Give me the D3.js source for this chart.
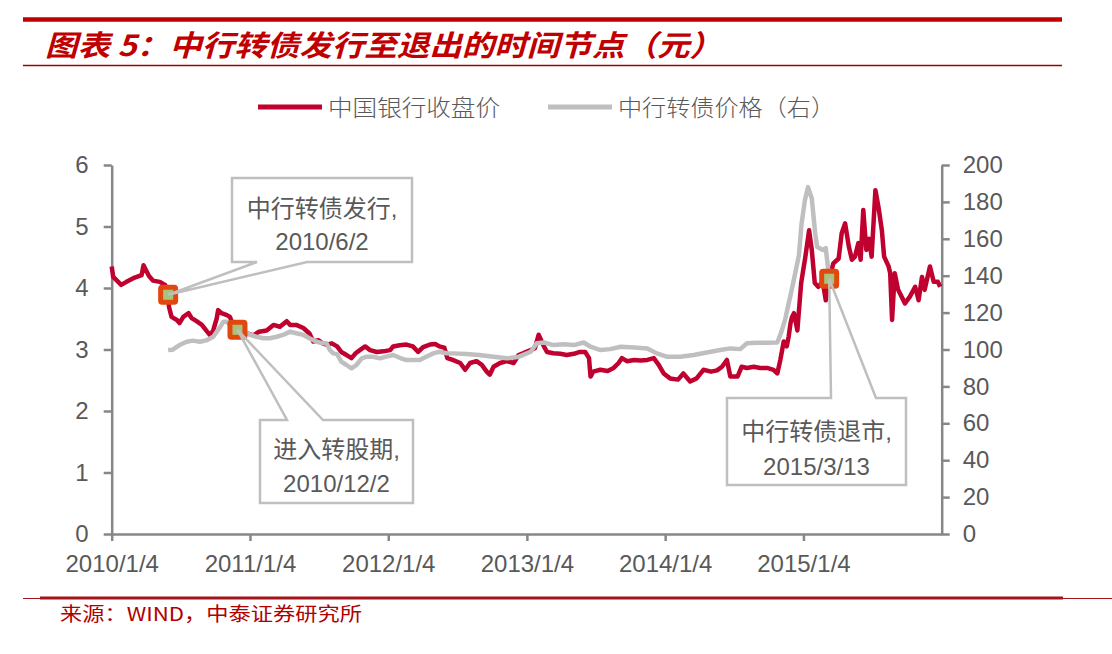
<!DOCTYPE html>
<html><head><meta charset="utf-8">
<script src="https://cdn.jsdelivr.net/npm/d3@7"></script>
<style>html,body{margin:0;padding:0;background:#fff;}svg{display:block;}</style>
</head><body>
<svg id="chart" width="1112" height="654"></svg>
<script>
// ---------------- DATA ----------------
const stockDates = ["2010-01-04","2010-01-08","2010-01-29","2010-02-12","2010-03-02","2010-03-24","2010-03-29","2010-04-12","2010-04-23","2010-05-11","2010-05-25","2010-06-02","2010-06-04","2010-06-11","2010-06-25","2010-07-02","2010-07-12","2010-07-26","2010-08-03","2010-08-16","2010-08-30","2010-09-13","2010-09-21","2010-09-29","2010-10-08","2010-10-12","2010-10-21","2010-11-04","2010-11-12","2010-11-22","2010-12-02","2010-12-17","2010-12-30",
"2011-01-13","2011-01-28","2011-02-17","2011-03-07","2011-03-24","2011-04-11","2011-04-20","2011-05-06","2011-05-25","2011-06-10","2011-06-20","2011-07-04","2011-07-15","2011-07-25","2011-08-08","2011-08-22","2011-09-02","2011-09-16","2011-09-29","2011-10-10","2011-10-21","2011-11-04","2011-11-17","2011-12-05","2011-12-22",
"2012-01-09","2012-01-17","2012-02-03","2012-02-21","2012-03-09","2012-03-23","2012-04-05","2012-04-23","2012-05-07","2012-05-18","2012-05-31","2012-06-08","2012-06-22","2012-07-12","2012-07-25","2012-08-07","2012-08-24","2012-09-07","2012-09-20","2012-09-28","2012-10-08","2012-10-25","2012-11-12","2012-11-30","2012-12-13","2012-12-26",
"2013-01-14","2013-01-25","2013-02-04","2013-02-18","2013-02-26","2013-03-15","2013-04-02","2013-04-19","2013-05-08","2013-05-24","2013-06-07","2013-06-17","2013-06-21","2013-06-28","2013-07-17","2013-08-05","2013-08-21","2013-09-03","2013-09-12","2013-09-25","2013-10-14","2013-10-31","2013-11-18","2013-12-05","2013-12-18","2013-12-31",
"2014-01-17","2014-02-07","2014-02-21","2014-03-11","2014-03-28","2014-04-15","2014-05-05","2014-05-21","2014-06-03","2014-06-16","2014-06-25","2014-07-14","2014-07-25","2014-08-08","2014-08-26","2014-09-12","2014-09-30","2014-10-17","2014-10-27","2014-11-04","2014-11-13","2014-11-21","2014-11-26","2014-12-01","2014-12-05","2014-12-10","2014-12-19","2014-12-29",
"2015-01-05","2015-01-08","2015-01-19","2015-01-26","2015-02-03","2015-02-12","2015-02-24","2015-03-04","2015-03-13","2015-03-24","2015-04-07","2015-04-15","2015-04-24","2015-05-04","2015-05-12","2015-05-20","2015-05-29","2015-06-04","2015-06-11","2015-06-19","2015-06-26","2015-07-03","2015-07-13","2015-07-21","2015-07-30","2015-08-05","2015-08-17","2015-08-21","2015-08-26","2015-09-02","2015-09-11","2015-09-29","2015-10-12","2015-10-26","2015-11-04","2015-11-13","2015-11-20","2015-12-04","2015-12-14","2015-12-25","2015-12-31"];
const stockPrices = [4.35,4.18,4.05,4.10,4.16,4.21,4.37,4.20,4.12,4.10,4.05,3.90,3.70,3.53,3.48,3.43,3.53,3.59,3.51,3.46,3.40,3.29,3.23,3.31,3.50,3.64,3.59,3.56,3.53,3.37,3.32,3.29,3.26,
3.23,3.29,3.31,3.40,3.37,3.46,3.40,3.40,3.35,3.26,3.13,3.15,3.10,3.08,3.10,3.05,2.96,2.91,2.86,2.94,2.99,3.05,2.99,2.96,2.97,
2.99,3.05,3.07,3.08,3.05,2.96,3.04,3.08,3.09,3.05,3.03,2.86,2.83,2.78,2.67,2.78,2.81,2.75,2.64,2.59,2.72,2.78,2.81,2.78,2.91,2.94,
2.99,3.02,3.24,3.05,2.96,2.94,2.93,2.91,2.93,2.96,2.96,2.86,2.56,2.64,2.67,2.65,2.70,2.78,2.86,2.81,2.83,2.82,2.83,2.86,2.75,2.61,
2.53,2.51,2.61,2.48,2.53,2.67,2.64,2.66,2.72,2.83,2.56,2.56,2.72,2.70,2.72,2.70,2.70,2.67,2.61,2.83,3.13,3.05,3.21,3.43,3.53,3.59,3.31,4.08,
4.35,4.46,4.94,4.62,4.08,4.02,4.10,3.80,4.15,4.40,4.48,4.89,5.05,4.67,4.46,4.51,4.73,4.46,5.27,4.62,4.80,4.51,5.59,5.32,4.94,4.51,4.35,4.24,3.48,4.24,3.97,3.75,3.86,4.02,3.80,4.18,3.97,4.35,4.10,4.10,4.02];

const bondDates = ["2010-06-02","2010-06-14","2010-07-02","2010-07-21","2010-08-06","2010-08-25","2010-09-13","2010-09-29","2010-10-18","2010-10-26","2010-11-04","2010-11-12","2010-11-30","2010-12-13","2010-12-27",
"2011-01-07","2011-01-21","2011-02-09","2011-02-25","2011-03-16","2011-04-01","2011-04-20","2011-05-06","2011-05-25","2011-06-10","2011-06-29","2011-07-15","2011-07-25","2011-08-03","2011-08-12","2011-08-22","2011-09-02","2011-09-16","2011-09-29","2011-10-12","2011-10-26","2011-11-08","2011-11-25","2011-12-13","2011-12-30",
"2012-01-17","2012-02-03","2012-02-21","2012-03-09","2012-03-27","2012-04-13","2012-05-02","2012-05-18","2012-06-06","2012-06-22","2012-07-27","2012-08-31","2012-10-08","2012-11-12","2012-12-14",
"2013-01-14","2013-01-30","2013-02-18","2013-03-15","2013-04-11","2013-05-08","2013-06-03","2013-06-21","2013-07-17","2013-08-12","2013-09-09","2013-10-14","2013-11-18","2013-12-13",
"2014-01-08","2014-02-13","2014-03-20","2014-04-24","2014-05-29","2014-06-25","2014-07-21","2014-08-08","2014-09-03","2014-09-30","2014-10-27","2014-11-07","2014-11-17","2014-12-01","2014-12-10","2014-12-23","2014-12-30",
"2015-01-08","2015-01-16","2015-01-26","2015-02-04","2015-02-09","2015-02-24","2015-03-04","2015-03-13"];
const bondPrices = [99.7,99.9,102.4,104.2,104.8,104.2,105.1,106.9,112.4,115.1,115.1,113.3,110.6,110.6,108.8,
107.9,106.9,106.1,106.1,106.9,107.9,109.7,108.8,107.9,106.1,104.2,103.4,103.4,99.7,97.9,97.5,93.4,91.6,89.8,91.6,95.2,96.1,96.1,95.2,96.1,
97.0,95.5,94.3,94.3,94.3,96.1,97.9,98.8,98.0,97.9,97.5,97.0,96.1,95.2,96.1,
98.8,103.4,103.8,102.4,102.8,102.4,103.8,101.5,99.7,100.2,101.5,101.1,100.6,97.9,
96.1,96.1,97.0,98.4,99.7,100.6,100.2,103.4,103.6,103.6,103.8,109.7,116.5,129.5,138.1,151,168,
181,188,182,163,155.7,153.9,154.9,138.6];

const leftTicks = [0,1,2,3,4,5,6];
const rightTicks = [0,20,40,60,80,100,120,140,160,180,200];
const xTickDates = ["2010-01-04","2011-01-04","2012-01-04","2013-01-04","2014-01-04","2015-01-04"];
const xTickLabels = ["2010/1/4","2011/1/4","2012/1/4","2013/1/4","2014/1/4","2015/1/4"];

const eventDates = ["2010-06-02","2010-12-02","2015-03-13"];
const eventStock = [3.89,3.32,4.15];
const eventLine1 = ["中行转债发行,","进入转股期,","中行转债退市,"];
const eventLine2 = ["2010/6/2","2010/12/2","2015/3/13"];

const seriesNames = ["中国银行收盘价","中行转债价格（右）"];
const titleText = "图表 5：中行转债发行至退出的时间节点（元）";
const sourceText = "来源：WIND，中泰证券研究所";

// ---------------- LAYOUT ----------------
const parse = d3.timeParse("%Y-%m-%d");
const svg = d3.select("#chart");
const RED = "#C0002F", GREY = "#BFBFBF", AXIS = "#878787", LABEL = "#595959";
const CJK = "'Noto Sans CJK SC', sans-serif";
const LAT = "'Liberation Sans', Arial, 'Noto Sans CJK SC', sans-serif";

const x = d3.scaleTime().domain([parse("2010-01-04"), parse("2016-01-04")]).range([111.7, 941.7]);
const yL = d3.scaleLinear().domain([0, 6]).range([534, 165]);
const yR = d3.scaleLinear().domain([0, 200]).range([534, 165]);

// header
svg.append("line").attr("x1",23).attr("x2",1062).attr("y1",19.5).attr("y2",19.5)
  .attr("stroke","#C00000").attr("stroke-width",4.5);
svg.append("text").attr("x",45).attr("y",56).text(titleText)
  .attr("font-family",CJK).attr("font-size",29).attr("font-weight","bold").attr("font-style","italic")
  .attr("fill","#C00000").attr("textLength",677).attr("lengthAdjust","spacingAndGlyphs");
svg.append("line").attr("x1",23).attr("x2",1062).attr("y1",65.5).attr("y2",65.5)
  .attr("stroke","#A00000").attr("stroke-width",1.5);

// legend
const legend = [{x0:258,x1:322,tx:328,tl:172,c:RED},{x0:548,x1:612,tx:618,tl:217,c:GREY}];
legend.forEach((l,i)=>{
  svg.append("line").attr("x1",l.x0).attr("x2",l.x1).attr("y1",107).attr("y2",107)
    .attr("stroke",l.c).attr("stroke-width",5);
  svg.append("text").attr("x",l.tx).attr("y",116).text(seriesNames[i])
    .attr("font-family",CJK).attr("font-weight",300).attr("font-size",23).attr("fill",LABEL)
    .attr("textLength",l.tl).attr("lengthAdjust","spacingAndGlyphs");
});

// axes
function styleAxis(g){
  g.selectAll("path,line").attr("stroke",AXIS).attr("stroke-width",2.5);
  g.selectAll("text").attr("fill",LABEL).attr("font-family",LAT).attr("font-size",24);
}
svg.append("g").attr("transform","translate(111.7,0)")
  .call(d3.axisLeft(yL).tickValues(leftTicks).tickSize(8).tickSizeOuter(0).tickPadding(15).tickFormat(d3.format("d")))
  .call(styleAxis);
svg.append("g").attr("transform","translate(941.7,0)")
  .call(d3.axisRight(yR).tickValues(rightTicks).tickSize(8).tickSizeOuter(0).tickPadding(13).tickFormat(d3.format("d")))
  .call(styleAxis);
const xTicks = xTickDates.map(parse);
svg.append("g").attr("transform","translate(0,534)")
  .call(d3.axisBottom(x).tickValues(xTicks).tickSize(7).tickSizeOuter(0).tickPadding(14)
    .tickFormat((d,i)=>xTickLabels[i]))
  .call(styleAxis);

// lines
const stock = stockDates.map((d,i)=>({d:parse(d),v:stockPrices[i]}));
const bond = bondDates.map((d,i)=>({d:parse(d),v:bondPrices[i]}));
svg.append("path").datum(stock)
  .attr("d",d3.line().x(p=>x(p.d)).y(p=>yL(p.v)))
  .attr("fill","none").attr("stroke",RED).attr("stroke-width",4.5).attr("stroke-linejoin","round");
svg.append("path").datum(bond)
  .attr("d",d3.line().x(p=>x(p.d)).y(p=>yR(p.v)))
  .attr("fill","none").attr("stroke",GREY).attr("stroke-width",4.5).attr("stroke-linejoin","round");

// callouts
const boxes = [
  {x0:232,y0:178,x1:412,y1:262,pb:[257,307],side:"bottom",cx:322,b1:217,b2:250},
  {x0:260,y0:420,x1:413,y1:503,pb:[287,323],side:"top",cx:336.5,b1:458,b2:492},
  {x0:727,y0:398,x1:906,y1:485,pb:[831,876],side:"top",cx:816.5,b1:440,b2:475}
];
const tips = eventDates.map((d,i)=>({x:x(parse(d)),y:yL(eventStock[i])}));
boxes.forEach(b=>{
  svg.append("rect").attr("x",b.x0).attr("y",b.y0).attr("width",b.x1-b.x0).attr("height",b.y1-b.y0).attr("fill","#fff");
});
// markers
tips.forEach(t=>{
  svg.append("rect").attr("x",t.x-7.5).attr("y",t.y-7.5).attr("width",15).attr("height",15).attr("rx",1.5)
    .attr("fill","#A8C47C").attr("stroke","#E2470D").attr("stroke-width",5);
});
boxes.forEach((b,i)=>{
  const t = tips[i];
  let p;
  if(b.side==="bottom"){
    p = `M${b.x0},${b.y0}H${b.x1}V${b.y1}H${b.pb[1]}L${t.x},${t.y}L${b.pb[0]},${b.y1}H${b.x0}Z`;
  } else {
    p = `M${b.x0},${b.y0}H${b.pb[0]}L${t.x},${t.y}L${b.pb[1]},${b.y0}H${b.x1}V${b.y1}H${b.x0}Z`;
  }
  svg.append("path").attr("d",p).attr("fill","none").attr("stroke",GREY).attr("stroke-width",2.5).attr("stroke-linejoin","miter");
  svg.append("text").attr("x",b.cx).attr("y",b.b1).attr("text-anchor","middle").text(eventLine1[i])
    .attr("font-family",LAT).attr("font-size",24).attr("fill",LABEL);
  svg.append("text").attr("x",b.cx).attr("y",b.b2).attr("text-anchor","middle").text(eventLine2[i])
    .attr("font-family",LAT).attr("font-size",24).attr("fill",LABEL);
});

// footer
svg.append("line").attr("x1",23).attr("x2",1112).attr("y1",598.5).attr("y2",598.5)
  .attr("stroke","#A3151B").attr("stroke-width",1.2);
svg.append("line").attr("x1",40).attr("x2",1063).attr("y1",598).attr("y2",598)
  .attr("stroke","#A3151B").attr("stroke-width",3);
svg.append("text").attr("x",60).attr("y",621).text(sourceText)
  .attr("font-family",CJK).attr("font-size",19).attr("fill","#B00000")
  .attr("textLength",302).attr("lengthAdjust","spacingAndGlyphs");
</script>
</body></html>
